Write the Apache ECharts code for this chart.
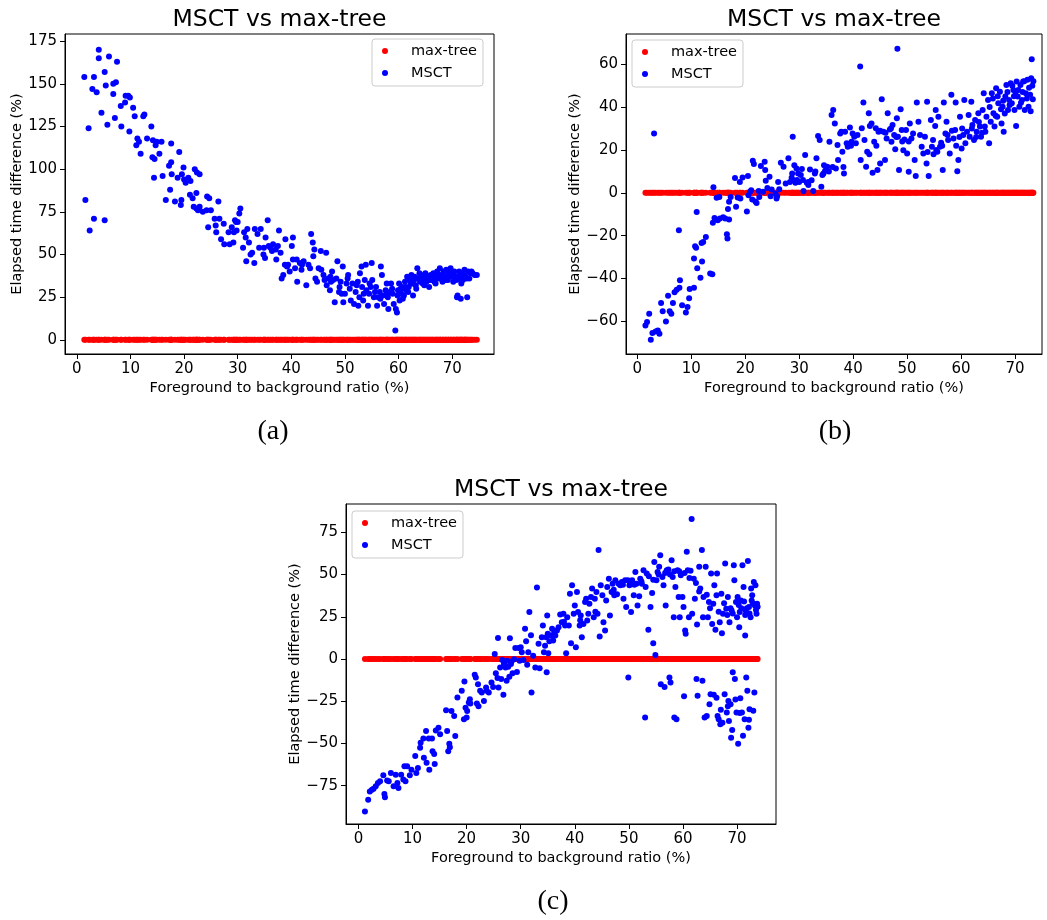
<!DOCTYPE html>
<html><head><meta charset="utf-8">
<script src="https://cdn.jsdelivr.net/npm/echarts@6/dist/echarts.min.js"></script>
<style>html,body{margin:0;padding:0;background:#fff}#chart{width:1047px;height:920px}</style>
</head><body><div id="chart"></div>
<script>
const seriesNames = ['max-tree', 'MSCT'];
const chartTitle = 'MSCT vs max-tree';
const xAxisName = 'Foreground to background ratio (%)';
const yAxisName = 'Elapsed time difference (%)';
const captions = ['(a)', '(b)', '(c)'];
const xTicks = [0, 10, 20, 30, 40, 50, 60, 70];
const yTicksA = [0, 25, 50, 75, 100, 125, 150, 175];
const yTicksB = [-60, -40, -20, 0, 20, 40, 60];
const yTicksC = [-75, -50, -25, 0, 25, 50, 75];

// MSCT points [ratio %, difference %] for panel (a)
const msctA = [[1.4,154],[1.6,82],[2.2,124],[2.4,64],[2.9,147],[3.2,154],[3.2,71],[3.7,145],[4.1,170],[4.1,165],[4.6,133],[5.2,157],[5.2,70],[5.4,149],[5.7,126],[6.0,166],[6.8,144],[6.8,150],[7.1,130],[7.3,151],[7.5,163],[8.2,137],[8.3,125],[9.0,139],[9.1,143],[9.6,143],[9.9,142],[9.8,122],[10.5,136],[10.8,131],[11.1,114],[11.3,118],[11.6,116],[11.9,109],[12.4,131],[12.6,132],[13.1,118],[13.9,125],[14.1,107],[14.2,117],[14.5,106],[14.4,95],[14.7,114],[14.9,116],[15.4,109],[15.8,116],[16.0,96],[16.6,82],[17.2,102],[17.4,88],[17.6,115],[17.6,104],[17.7,97],[18.3,81],[18.8,95],[19.1,110],[19.4,79],[19.5,82],[19.6,97],[19.9,101],[20.0,94],[20.3,92],[20.8,95],[21.2,93],[21.1,85],[21.6,83],[21.8,78],[22.0,100],[22.3,86],[22.4,98],[22.3,77],[22.6,76],[22.9,97],[22.9,78],[23.5,75],[24.2,76],[24.3,84],[24.5,66],[24.7,83],[25.0,76],[25.7,71],[25.9,67],[26.4,81],[26.0,63],[26.6,71],[26.9,59],[27.4,68],[27.5,56],[28.3,63],[28.5,56],[28.9,66],[29.2,57],[29.3,63],[29.5,70],[29.7,69],[29.8,64],[30.0,69],[30.3,74],[30.5,77],[31.0,54],[31.2,63],[31.5,60],[31.6,46],[31.8,65],[32.1,57],[32.4,50],[32.7,51],[33.2,65],[33.1,45],[33.7,62],[34.0,54],[34.3,65],[34.8,50],[34.9,54],[35.1,48],[35.2,60],[35.6,70],[35.8,55],[36.1,54],[36.6,56],[37.1,53],[37.2,47],[37.7,64],[38.0,51],[38.2,36],[38.5,38],[38.8,44],[38.9,59],[39.2,43],[39.7,40],[40.1,55],[40.3,60],[40.3,47],[40.7,42],[41.0,47],[41.1,34],[41.6,45],[41.9,41],[42.3,46],[42.8,32],[43.2,44],[43.5,42],[43.7,62],[44.0,57],[44.1,49],[44.3,53],[44.5,36],[44.8,34],[45.1,42],[45.5,52],[46.0,38],[46.5,51],[46.6,32],[46.9,36],[47.2,29],[47.6,40],[47.8,35],[48.1,22],[48.4,36],[48.6,46],[48.9,28],[49.2,34],[49.4,27],[49.6,43],[49.7,22],[50.0,27],[50.3,33],[50.6,38],[50.9,30],[51.1,23],[51.4,33],[51.7,21],[52.0,28],[52.2,32],[52.5,20],[52.7,25],[52.8,39],[53.1,43],[53.2,31],[53.4,23],[53.7,35],[53.9,44],[54.0,29],[54.3,20],[54.5,27],[54.8,31],[55.0,45],[55.1,35],[55.4,25],[55.8,31],[56.0,20],[56.2,25],[56.5,28],[56.7,43],[56.9,38],[57.1,26],[57.3,21],[57.6,29],[57.8,33],[58.0,25],[58.1,18],[58.4,28],[58.6,33],[58.9,27],[59.1,21],[59.4,5.5],[59.5,18],[59.7,16],[59.9,29],[60.1,33],[60.2,23],[60.5,27],[60.7,31],[61.0,26],[61.2,34],[61.4,29],[61.6,37],[61.9,31],[62.1,35],[62.4,38],[62.6,33],[62.7,26],[63.0,37],[63.2,32],[63.5,42],[63.7,36],[64.0,34],[64.2,38],[64.5,33],[64.7,36],[65.0,39],[65.2,34],[65.5,37],[65.7,31],[66.0,38],[66.2,35],[66.5,39],[66.7,34],[67.0,37],[67.2,40],[67.5,36],[67.7,42],[67.9,38],[68.2,34],[68.4,40],[68.7,37],[68.9,41],[69.2,35],[69.4,39],[69.7,42],[69.9,37],[70.2,34],[70.4,40],[70.7,37],[70.9,25],[71.0,26],[71.3,40],[71.5,36],[71.8,39],[72.0,35],[72.3,41],[72.5,37],[72.8,25],[73.0,40],[73.4,39],[73.8,39],[74.2,38],[60.8,24],[61.3,31],[61.8,28],[62.3,33],[62.9,35],[63.3,30],[63.9,39],[64.3,35],[64.8,32],[65.3,36],[65.8,35],[66.3,37],[66.9,33],[67.3,38],[67.8,36],[68.3,37],[68.8,35],[69.3,38],[69.8,40],[70.3,38],[70.8,35],[71.2,37],[71.7,33],[72.2,38],[72.7,36],[73.2,36],[74.6,38],[71.6,24],[72.4,37],[73.6,40],[46.2,35],[47.4,34],[49.0,31],[50.5,36],[52.4,34],[53.5,27],[54.6,33],[55.6,28],[56.6,24],[57.8,27],[58.8,30],[59.8,26],[60.4,30],[36.4,52],[37.5,55],[39.4,44],[42.0,44],[45.6,41],[47.3,37]];

// MSCT points for panel (b)
const msctB = [[1.5,-61.9],[1.8,-60.3],[2.2,-56.4],[2.5,-68.6],[2.8,-65.4],[3.1,27.7],[3.4,-64.7],[3.8,-64.2],[4.1,-65.8],[4.4,-51.4],[4.7,-55.2],[5.3,-60],[5.7,-48],[6.0,-55.2],[6.3,-56.4],[6.6,-51.4],[6.9,-46.4],[7.3,-45.2],[7.7,-17.5],[7.8,-44.3],[7.9,-40.8],[8.3,-52.4],[9.0,-55.8],[9.3,-53.3],[9.6,-49.2],[9.7,-44.9],[10.5,-44.3],[10.5,-30.7],[10.7,-24.9],[10.9,-25.6],[11.0,-9.0],[11.1,-35.2],[11.9,-23.4],[12.0,-32.1],[11.7,-39.6],[12.2,-22.9],[12.7,-20.6],[13.5,-37.7],[13.9,-38],[14.0,-14.0],[14.1,2.6],[14.3,-11.7],[14.7,-2.3],[14.9,-12.8],[15.2,-1.9],[15.3,-12.0],[15.9,-11.4],[16.3,-12.0],[16.6,-19.3],[16.7,-21.3],[16.8,-7.6],[17.0,-12.5],[17.0,-4.2],[17.3,-1.9],[18.1,6.9],[18.3,-6.5],[18.6,-2.2],[19.0,5.1],[19.1,-2.6],[19.5,7.2],[20.3,-8.7],[20.5,7.9],[20.6,-1.1],[20.9,0.5],[21.1,1.2],[21.3,-3.1],[21.4,15],[21.6,13.4],[21.9,-4.1],[22.1,-4.7],[22.5,0.9],[22.6,-1.9],[22.9,12.5],[23.3,0.5],[23.6,14.5],[23.7,10.6],[23.8,5.6],[24.1,2.2],[24.5,7.5],[24.7,-1.6],[24.9,1.6],[25.6,-0.3],[25.8,-2.6],[25.9,-1.6],[26.1,5.1],[26.3,1.7],[26.6,14.0],[27.1,12.2],[27.5,4.4],[28.0,16.1],[28.3,5.1],[28.6,7.0],[28.8,26.2],[28.9,5.9],[29.1,12.9],[29.3,4.7],[29.5,11.4],[29.8,9.0],[30.0,5.1],[30.3,8.3],[30.5,11.1],[30.8,0.9],[31.1,17.6],[31.4,4.7],[31.7,3.6],[32.0,10.9],[32.3,5.9],[32.6,0.9],[32.9,9.0],[33.2,16.1],[33.5,26.5],[33.8,24.6],[34.1,2.8],[34.3,8.3],[34.6,12.9],[34.8,10.3],[35.2,12.2],[35.6,23.8],[36.0,36.3],[36.3,38.6],[36.6,32.4],[36.8,11.4],[37.1,22.3],[37.2,15.3],[37.6,27.7],[37.8,28.5],[38.0,19.2],[38.3,9.0],[38.5,28.5],[38.8,23.1],[39.0,21.5],[39.4,30.5],[39.7,23.8],[39.9,27.7],[40.2,26.2],[40.5,23.1],[41.3,58.9],[41.4,15.3],[41.6,30.1],[41.9,42.1],[42.1,24.6],[42.4,12.2],[42.6,19.2],[42.9,37.1],[43.1,31.2],[43.4,32.4],[43.6,9.4],[43.9,23.8],[44.2,30.1],[44.5,10.6],[44.7,28.5],[45.0,13.7],[45.3,43.6],[45.6,28.5],[45.9,15.3],[46.2,25.4],[46.4,37.1],[46.8,29.6],[47.1,23.8],[47.3,31.6],[47.6,27.0],[47.8,20.3],[48.1,34.8],[48.2,67.2],[48.3,26.2],[48.5,10.6],[48.8,39.0],[49.0,29.3],[49.3,19.9],[49.5,24.9],[49.8,29.3],[50.0,18.4],[50.3,9.8],[50.5,32.4],[50.8,25.4],[51.1,27.7],[51.4,15.3],[51.6,7.8],[51.8,42.1],[52.1,33.2],[52.4,27.0],[52.7,21.5],[53.0,18.4],[53.3,26.2],[53.6,13.7],[53.7,42.5],[54.0,7.8],[54.4,34.0],[54.6,21.5],[54.8,24.6],[55.2,31.2],[55.3,38.6],[55.6,19.2],[55.8,35.5],[56.1,21.5],[56.3,23.4],[56.6,10.6],[56.8,42.1],[57.1,27.7],[57.3,33.2],[57.6,24.6],[57.9,18.4],[58.2,45.7],[58.6,25.4],[58.9,29.3],[59.0,42.1],[59.3,10.1],[59.5,15.3],[59.8,35.5],[60.1,20.7],[60.4,27.0],[60.6,43.3],[60.8,23.1],[61.1,28.5],[61.4,36.3],[61.6,26.2],[61.9,42.5],[62.1,31.6],[62.4,24.6],[62.6,34.0],[62.9,28.5],[63.2,37.1],[63.5,30.9],[63.7,26.2],[64.0,38.6],[64.2,46.4],[64.5,28.5],[64.7,35.5],[65.0,43.3],[65.2,23.1],[65.5,33.2],[65.7,46.4],[66.0,37.1],[66.2,30.9],[66.5,48.8],[66.7,35.5],[66.9,41.8],[67.2,47.2],[67.5,32.4],[67.7,40.2],[67.9,28.5],[68.2,44.9],[68.4,50.3],[68.7,38.6],[68.9,43.3],[69.2,51.1],[69.4,41.8],[69.7,48.0],[69.9,38.6],[70.2,31.2],[70.3,51.9],[70.5,44.9],[70.8,40.2],[71.0,50.3],[71.3,43.3],[71.5,51.9],[71.8,38.6],[72.0,46.4],[72.3,52.7],[72.5,40.2],[72.8,45.7],[73.0,53.5],[73.1,62.3],[73.3,43.6],[65.3,40],[65.9,44],[66.4,36],[66.8,45],[67.4,39],[67.8,43],[68.1,37],[68.6,47],[69.0,41],[69.5,50],[69.8,45],[70.1,47],[70.6,48],[71.1,42],[71.4,47],[71.7,52],[72.2,44],[72.6,49],[72.9,38],[73.2,50],[73.4,52],[62.0,30],[62.8,26],[63.3,33],[63.9,28],[64.4,31],[59.1,22],[59.7,26],[60.2,30],[58.3,29],[57.5,27],[56.5,22],[55.4,20],[54.9,18],[53.8,19],[50.3,24],[49.1,24],[48.0,26],[47.0,30],[46.0,28],[45.0,29],[44.3,22],[43.0,18],[40.8,27],[39.6,22],[38.2,12],[36.2,12],[35.5,10],[34.5,9],[33.0,10],[31.7,5],[30.7,6],[29.6,6],[28.7,9]];

// MSCT points for panel (c)
const msctC = [[1.2,-90.3],[1.8,-83.3],[2.1,-78.4],[2.5,-77.4],[2.8,-76.8],[3.2,-75.4],[3.6,-73.4],[4.0,-72.4],[4.6,-68.8],[4.8,-80.0],[4.9,-81.9],[5.3,-72.0],[5.6,-72.4],[6.0,-67.5],[6.5,-75.4],[6.9,-68.5],[7.2,-73.4],[7.4,-76.4],[7.9,-68.5],[8.3,-71.4],[8.5,-63.5],[8.7,-72.4],[9.0,-63.5],[9.5,-68.8],[9.8,-65.5],[10.5,-57.5],[10.7,-67.5],[11.0,-64.5],[11.4,-52.6],[11.5,-49.6],[12.0,-47.0],[12.1,-58.5],[12.5,-42.7],[12.6,-61.5],[13.0,-47.0],[13.1,-65.5],[13.6,-47.0],[13.7,-54.6],[14.0,-56.2],[14.1,-62.1],[14.3,-42.3],[14.8,-40.7],[15.1,-44.6],[16.2,-30.4],[16.4,-42.7],[16.6,-54.6],[16.8,-50.2],[16.9,-52.2],[17.2,-30.8],[17.7,-33.7],[17.9,-45.6],[18.3,-22.8],[19.1,-18.8],[19.5,-35.7],[19.6,-13.3],[19.8,-28.8],[20.0,-34.7],[20.1,-30.8],[20.4,-25.8],[20.6,-23.8],[20.7,-26.4],[21.5,-9.3],[21.7,-10.9],[21.9,-26.4],[22.1,-14.9],[22.2,-28.0],[22.5,-18.8],[22.8,-19.8],[23.2,-24.8],[23.6,-16.9],[23.7,-18.8],[24.1,-19.8],[24.6,-13.9],[24.9,-16.5],[25.2,3.0],[25.4,-8.5],[25.7,-11.3],[25.8,12.5],[25.9,-16.9],[26.2,-5.0],[26.4,-11.9],[26.6,-0.6],[26.8,-21.2],[27.0,-2.0],[27.2,-5.0],[27.4,-12.9],[27.7,-4.6],[27.9,-10.5],[28.0,12.3],[28.3,-1.4],[28.5,-8.5],[28.8,-0.2],[29.0,6.5],[29.3,-7.7],[29.6,6.5],[30.0,6.9],[30.2,4.0],[30.5,-0.6],[30.8,17.9],[31.0,10.5],[31.2,-3.4],[31.6,27.8],[31.9,14.1],[32.0,-19.8],[32.3,2.0],[32.7,-5.0],[33.0,42.3],[33.5,-5.4],[33.9,12.9],[34.1,19.8],[34.3,4.0],[34.5,7.9],[34.7,12.9],[34.8,-7.9],[34.9,25.8],[35.1,3.4],[35.3,10.5],[35.6,13.9],[35.8,17.9],[36.0,10.9],[36.4,13.9],[36.7,16.9],[37.0,18.8],[37.3,26.4],[37.6,21.8],[37.9,26.8],[38.2,19.8],[38.4,3.4],[38.6,24.8],[38.9,19.8],[39.1,38.7],[39.3,9.3],[39.5,43.7],[39.8,26.8],[40.0,31.7],[40.2,6.9],[40.4,39.7],[40.6,27.8],[40.9,19.8],[41.1,25.8],[41.3,12.9],[41.6,20.8],[41.9,33.7],[42.1,35.7],[42.3,22.8],[42.5,26.8],[42.7,32.7],[43.0,36.7],[43.2,41.7],[43.5,24.8],[43.7,35.7],[44.0,39.7],[44.2,26.8],[44.4,64.5],[44.6,13.3],[44.8,43.7],[45.1,37.7],[45.3,21.8],[45.6,16.9],[45.8,34.7],[46.0,42.7],[46.3,47.6],[46.5,25.8],[46.8,39.7],[47.0,44.6],[47.3,37.7],[47.5,46.6],[47.8,38.3],[48.1,44.6],[48.4,43.7],[48.7,45.6],[49.0,35.7],[49.3,46.6],[49.5,30.8],[49.8,46.6],[49.9,-10.9],[50.1,43.7],[50.4,27.8],[50.6,46.6],[50.9,37.7],[51.2,51.6],[51.4,44.6],[51.6,31.7],[51.9,37.1],[52.1,47.6],[52.4,44.6],[52.7,52.6],[53.0,-34.7],[53.1,42.7],[53.3,50.6],[53.6,17.3],[54.0,30.8],[54.3,39.1],[54.5,9.3],[54.7,57.5],[54.9,2.4],[55.1,46.6],[55.3,51.6],[55.6,54.6],[55.8,61.5],[55.9,-14.9],[56.2,48.6],[56.4,43.7],[56.6,-16.5],[56.8,31.7],[57.0,52.6],[57.3,53.0],[57.5,-10.9],[57.7,-13.9],[57.9,58.5],[58.1,48.6],[58.3,24.8],[58.4,-34.7],[58.6,42.7],[58.8,-35.7],[59.0,52.6],[59.2,36.7],[59.4,24.8],[59.6,49.6],[59.9,36.7],[60.1,30.8],[60.2,-22.0],[60.4,16.9],[60.5,14.9],[60.7,63.5],[60.9,52.6],[61.1,24.8],[61.4,52.2],[61.6,82.9],[61.7,26.8],[62.0,47.6],[62.2,35.7],[62.5,-11.9],[62.6,20.4],[62.7,-21.8],[63.0,54.6],[63.2,41.7],[63.5,64.5],[63.6,-12.9],[63.7,24.8],[63.8,36.7],[64.0,-34.7],[64.2,54.6],[64.4,-33.7],[64.6,24.8],[64.8,33.7],[64.9,-26.8],[65.1,-20.8],[65.2,50.6],[65.4,20.8],[65.6,32.7],[65.7,-21.2],[65.8,43.7],[66.0,17.3],[66.2,37.7],[66.3,50.6],[66.4,-33.7],[66.6,-35.7],[66.8,21.8],[66.9,-38.7],[67.1,38.7],[67.2,15.3],[67.3,-37.7],[67.4,26.8],[67.7,-20.8],[67.8,56.5],[68.0,29.8],[68.1,-31.7],[68.3,36.7],[68.4,-24.8],[68.5,-36.7],[68.6,21.8],[68.8,-26.8],[68.9,-46.6],[69.0,28.8],[69.1,-42.1],[69.2,-7.9],[69.4,55.6],[69.5,46.6],[69.6,-11.9],[69.8,33.7],[69.9,-31.7],[70.0,24.8],[70.1,36.7],[70.2,-50.2],[70.4,18.8],[70.5,27.8],[70.6,-23.2],[70.7,34.7],[70.9,-31.7],[71.0,55.6],[71.1,-45.4],[71.2,42.7],[71.4,-35.7],[71.5,13.9],[71.6,28.8],[71.7,-10.9],[71.9,-18.8],[72.0,58.1],[72.1,-40.7],[72.2,30.8],[72.3,-29.8],[72.5,24.8],[72.6,41.7],[72.7,34.7],[72.8,37.7],[73.0,-30.7],[73.1,45.6],[73.2,-19.8],[73.3,31.7],[73.4,43.7],[73.6,26.8],[73.7,32.7],[47.2,41],[48.9,44],[50.3,45],[51.0,44],[52.3,46],[53.7,49],[54.5,47],[55.5,50],[56.7,51],[57.6,50],[58.4,52],[59.3,52],[60.3,51],[61.2,48],[62.4,45],[63.0,40],[64.4,38],[65.0,30],[66.6,28],[67.6,33],[68.2,26],[68.8,30],[69.2,27],[70.3,32],[70.8,30],[71.3,34],[71.8,30],[72.3,27],[72.9,33],[73.5,29],[73.8,31],[71.5,26],[70.5,-32],[69.7,-24],[68.3,-28],[72.2,-36],[66.2,-23],[67.0,-30],[43.8,28],[41.0,23],[38.0,22],[36.2,16],[35.0,15],[33.3,9],[31.4,4],[29.8,-1],[28.2,-3],[27.5,-1],[26.9,-3]];

const FONT = '"DejaVu Sans", sans-serif';
const panels = [
  { data: msctA, yTicks: yTicksA, grid: { left: 65, top: 34, width: 429, height: 320 },
    xr: [-2.2, 77.8], yr: [-8.3, 179.2], legend: { left: 372, top: 39 }, yGap: 40, caption: [273, 432] },
  { data: msctB, yTicks: yTicksB, grid: { left: 626, top: 34, width: 416, height: 320 },
    xr: [-2.1, 75.0], yr: [-75.2, 74.1], legend: { left: 632, top: 40 }, yGap: 43, caption: [835, 432] },
  { data: msctC, yTicks: yTicksC, grid: { left: 346, top: 504, width: 430, height: 320 },
    xr: [-2.3, 77.2], yr: [-97.7, 91.8], legend: { left: 352, top: 511 }, yGap: 43, caption: [553, 902] }
];

const fmt = v => String(v).replace('-', '\u2212');
const grids = [], xAxes = [], yAxes = [], series = [], legends = [], graphics = [];
panels.forEach((p, i) => {
  grids.push(Object.assign({ show: true, borderColor: '#000', borderWidth: 1, containLabel: false, outerBoundsMode: 'none' }, p.grid));
  const common = {
    gridIndex: i, type: 'value', splitLine: { show: false },
    axisLine: { show: true, onZero: false, lineStyle: { color: '#000', width: 1 } },
    nameLocation: 'middle', nameTextStyle: { fontFamily: FONT, fontSize: 14.5, color: '#000' }
  };
  xAxes.push(Object.assign({}, common, {
    min: p.xr[0], max: p.xr[1], name: xAxisName, nameGap: 27,
    axisTick: { show: true, length: 5, customValues: xTicks, lineStyle: { color: '#000' } },
    axisLabel: { customValues: xTicks, fontFamily: FONT, fontSize: 15, color: '#000', margin: 8, formatter: fmt }
  }));
  yAxes.push(Object.assign({}, common, {
    min: p.yr[0], max: p.yr[1], name: yAxisName, nameGap: p.yGap,
    axisTick: { show: true, length: 5, customValues: p.yTicks, lineStyle: { color: '#000' } },
    axisLabel: { customValues: p.yTicks, fontFamily: FONT, fontSize: 15, color: '#000', margin: 8, formatter: fmt }
  }));
  series.push({ type: 'scatter', name: seriesNames[0], xAxisIndex: i, yAxisIndex: i, symbolSize: 6,
    itemStyle: { color: '#ff0000', opacity: 1 }, data: p.data.map(d => [d[0], 0]), silent: true });
  series.push({ type: 'scatter', name: seriesNames[1], xAxisIndex: i, yAxisIndex: i, symbolSize: 6,
    itemStyle: { color: '#0000ff', opacity: 1 }, data: p.data, silent: true });
  legends.push({
    left: p.legend.left, top: p.legend.top, orient: 'vertical',
    data: seriesNames.map(n => ({ name: n, icon: 'circle' })),
    itemWidth: 20, itemHeight: 6, itemGap: 6, padding: [4, 6, 5, 10],
    backgroundColor: 'rgba(255,255,255,0.8)', borderColor: '#cccccc', borderWidth: 1, borderRadius: 3,
    selectedMode: false, itemStyle: { opacity: 1 },
    textStyle: { fontFamily: FONT, fontSize: 14.5, color: '#000', lineHeight: 16, padding: [0, 0, 0, 11] }
  });
  graphics.push({ type: 'text', x: p.grid.left + p.grid.width / 2, y: p.grid.top - 26,
    style: { text: chartTitle, font: '23.5px "DejaVu Sans"', fill: '#000', textAlign: 'center', textVerticalAlign: 'top' } });
  graphics.push({ type: 'text', x: p.caption[0], y: p.caption[1],
    style: { text: captions[i], font: '28px "Liberation Serif"', fill: '#000', textAlign: 'center', textVerticalAlign: 'middle' } });
});

const chart = echarts.init(document.getElementById('chart'), null, { renderer: 'canvas' });
chart.setOption({
  animation: false, backgroundColor: '#fff',
  grid: grids, xAxis: xAxes, yAxis: yAxes, series: series, legend: legends, graphic: graphics
});
</script></body></html>
